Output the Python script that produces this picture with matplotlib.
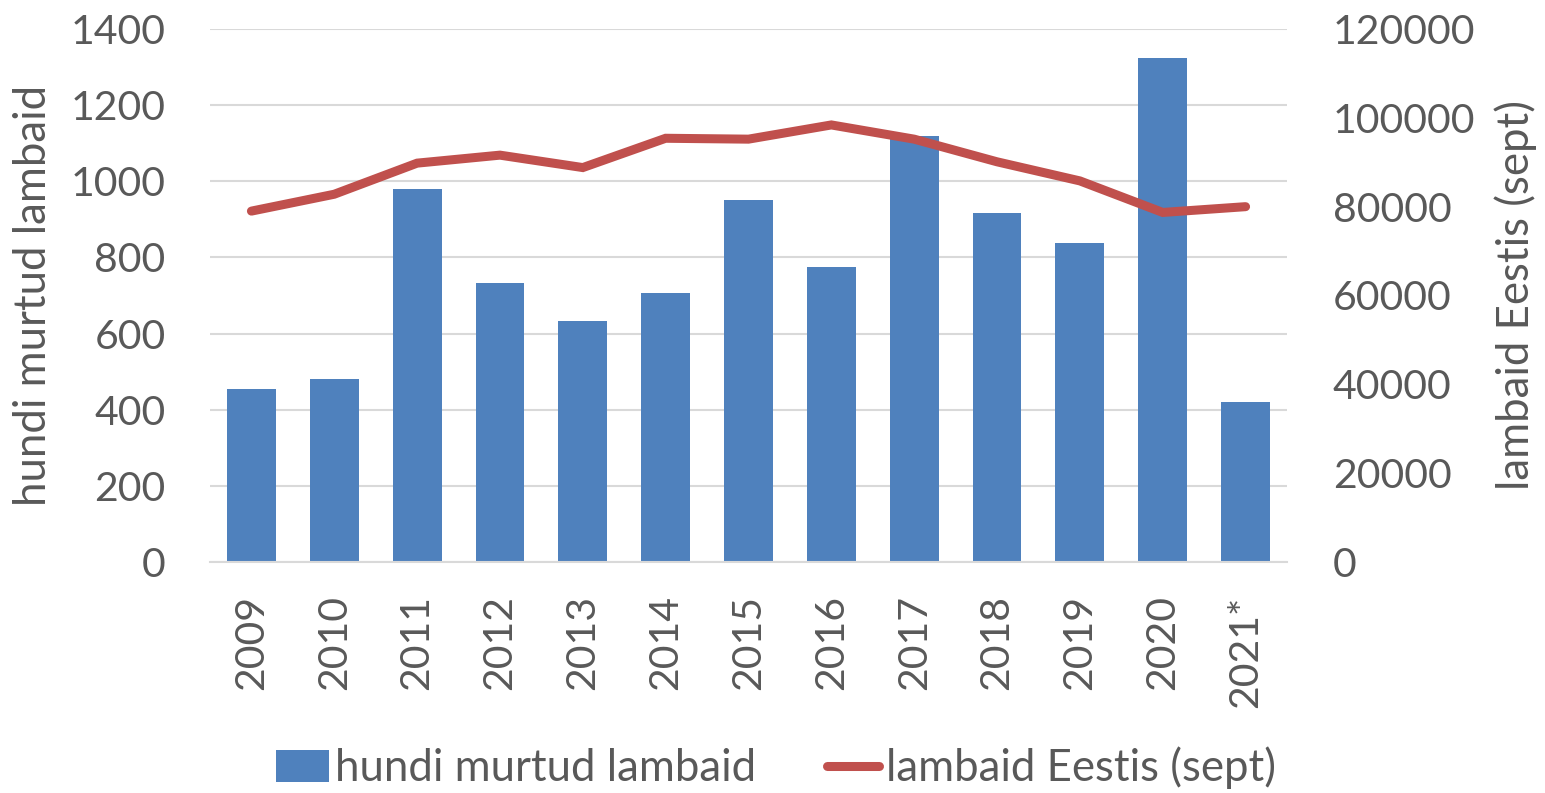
import matplotlib
matplotlib.use("Agg")
import matplotlib.pyplot as plt
from matplotlib.patches import Patch
from matplotlib.lines import Line2D

years = ["2009", "2010", "2011", "2012", "2013", "2014", "2015", "2016",
         "2017", "2018", "2019", "2020", "2021*"]
murtud = [455, 480, 980, 733, 633, 707, 950, 775, 1118, 917, 838, 1324, 419]
eestis = [79000, 82800, 89800, 91600, 88800, 95400, 95200, 98400, 95200,
          90100, 85800, 78700, 80000]

bar_color = "#4F81BD"
line_color = "#C0504D"
txt_color = "#595959"
fs_tick = 29.5
fs_lab = 31.5

plt.rcParams['font.family'] = ['Lato', 'DejaVu Sans']

fig = plt.figure(figsize=(15.45, 7.93), dpi=100)
ax = fig.add_axes([210/1545, 1-562/793, 1077/1545, 533/793])
ax2 = ax.twinx()

x = list(range(len(years)))
ax.bar(x, murtud, width=0.59, color=bar_color, zorder=2)
ax2.plot(x, eestis, color=line_color, lw=6.5, solid_capstyle='round',
         solid_joinstyle='miter', zorder=3)

ax.set_xlim(-0.5, len(years) - 0.5)
ax.set_ylim(0, 1400)
ax.set_yticks(range(0, 1401, 200))
ax2.set_ylim(0, 120000)
ax2.set_yticks(range(0, 120001, 20000))

ax.set_xticks(x)
ax.set_xticklabels(years, rotation=90, fontsize=fs_tick, color=txt_color)
ax.tick_params(axis='y', labelsize=fs_tick, colors=txt_color, length=0, pad=32)
ax.tick_params(axis='x', length=0, pad=24)
ax2.tick_params(axis='y', labelsize=fs_tick, colors=txt_color, length=0, pad=33)

ax.yaxis.grid(True, color="#D9D9D9", lw=1.5, zorder=0)
ax.set_axisbelow(True)
for a in (ax, ax2):
    for s in ("top", "left", "right"):
        a.spines[s].set_visible(False)
    a.spines["bottom"].set_color("#D9D9D9")
    a.spines["bottom"].set_linewidth(1.5)
ax2.spines["bottom"].set_visible(False)

ax.set_ylabel("hundi murtud lambaid", fontsize=fs_lab, color=txt_color, labelpad=12)
ax2.set_ylabel("lambaid Eestis (sept)", fontsize=fs_lab, color=txt_color, labelpad=14)

handles = [Patch(facecolor=bar_color, edgecolor='none'),
           Line2D([0], [0], color=line_color, lw=6.5, solid_capstyle='round')]
fig.legend(handles, ["hundi murtud lambaid", "lambaid Eestis (sept)"],
           loc='center', bbox_to_anchor=(776/1545, 1-768/793), ncol=2,
           frameon=False, fontsize=fs_lab, labelcolor=txt_color,
           handlelength=1.2, handleheight=0.75, handletextpad=0.15,
           columnspacing=1.6)

fig.savefig("out.png", dpi=100)
